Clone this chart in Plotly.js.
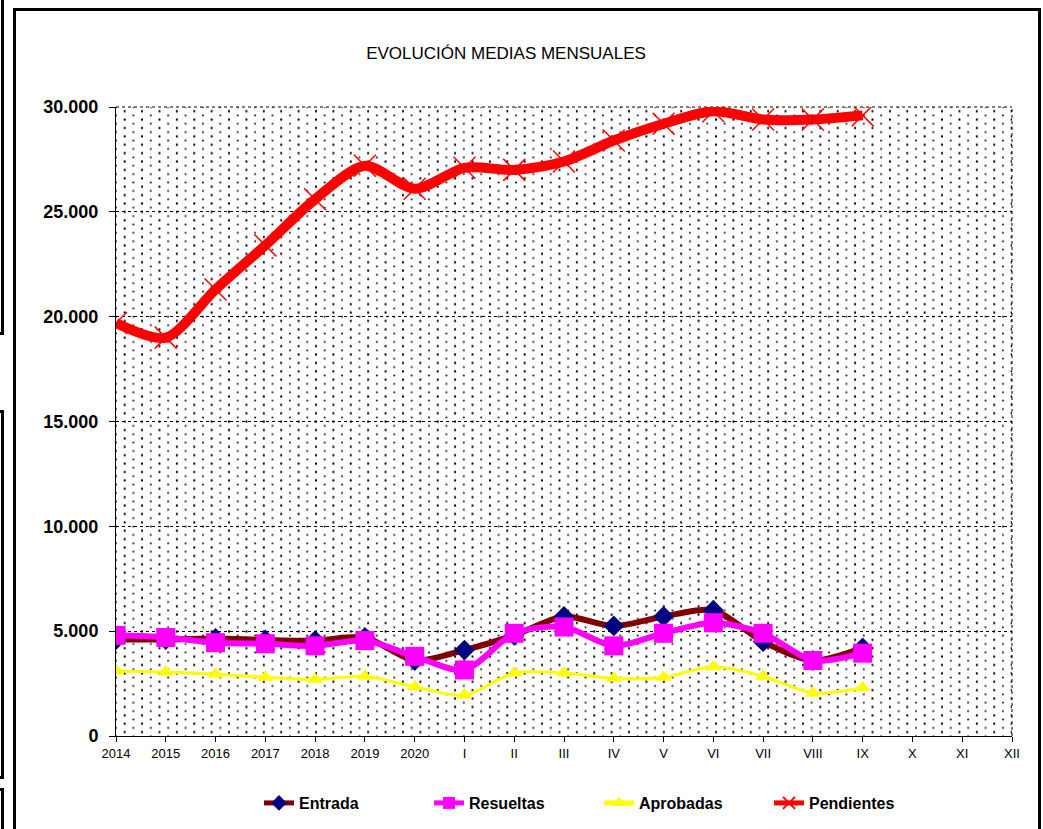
<!DOCTYPE html>
<html>
<head>
<meta charset="utf-8">
<script src="https://cdn.plot.ly/plotly-3.0.1.min.js"></script>
<style>
  html, body { margin: 0; padding: 0; background: #ffffff; width: 1043px; height: 829px; overflow: hidden; }
  #wrap { position: relative; width: 1043px; height: 829px; }
  #dots {
    position: absolute; left: 116px; top: 107px; width: 896px; height: 629px;
    background-color: #ffffff;
    background-image:
      radial-gradient(circle at center, #000 0.9px, rgba(0,0,0,0) 1.3px),
      radial-gradient(circle at center, #222 0.8px, rgba(0,0,0,0) 1.2px);
    background-size: 17.4px 8.4px, 17.4px 8.4px;
    background-position: 0px 0px, 8.7px 4.2px;
  }
  .frame { position: absolute; border: 3px solid #000; box-sizing: border-box; }
  #chart { position: absolute; left: 0; top: 0; width: 1043px; height: 829px; }
</style>
</head>
<body>
<div id="wrap">
  <div class="frame" style="left:-100px; top:-20px; width:104px; height:355px;"></div>
  <div class="frame" style="left:-100px; top:410px; width:104px; height:369px;"></div>
  <div class="frame" style="left:-100px; top:788px; width:104px; height:100px;"></div>
  <div class="frame" style="left:13px; top:8px; width:1028px; height:880px;"></div>
  <div id="dots"></div>
  <div id="chart"></div>
</div>
<script>
// Categories (x axis)
const categories = ["2014","2015","2016","2017","2018","2019","2020",
  "I","II","III","IV","V","VI","VII","VIII","IX","X","XI","XII"];
// Series values (data available through IX)
const entrada    = [4600, 4600, 4650, 4580, 4550, 4700, 3600, 4100, 4800, 5700, 5250, 5700, 6000, 4500, 3600, 4200];
const resueltas  = [4800, 4700, 4450, 4400, 4300, 4550, 3800, 3150, 4900, 5200, 4300, 4900, 5400, 4900, 3600, 3950];
const aprobadas  = [3100, 3050, 2950, 2800, 2700, 2850, 2350, 1950, 3000, 3000, 2750, 2800, 3300, 2850, 2050, 2300];
const pendientes = [19700, 19000, 21300, 23400, 25600, 27200, 26100, 27100, 27000, 27400, 28400, 29200, 29800, 29400, 29400, 29600];
// Y tick values
const yTicks = [0, 5000, 10000, 15000, 20000, 25000, 30000];

const xs = categories.slice(0, entrada.length);

const traces = [
  {
    name: "Entrada", x: xs, y: entrada, type: "scatter", mode: "lines+markers",
    line: { color: "#800000", width: 6, shape: "spline", smoothing: 0.8 },
    marker: { symbol: "diamond", color: "#000080", size: 16 }
  },
  {
    name: "Resueltas", x: xs, y: resueltas, type: "scatter", mode: "lines+markers",
    line: { color: "#FF00FF", width: 6, shape: "spline", smoothing: 0.8 },
    marker: { symbol: "square", color: "#FF00FF", size: 19 }
  },
  {
    name: "Aprobadas", x: xs, y: aprobadas, type: "scatter", mode: "lines+markers",
    line: { color: "#FFFF00", width: 3, shape: "spline", smoothing: 0.8 },
    marker: { symbol: "triangle-up", color: "#FFFF00", size: 14 }
  },
  {
    name: "Pendientes", x: xs, y: pendientes, type: "scatter", mode: "lines+markers",
    line: { color: "#FF0000", width: 10, shape: "spline", smoothing: 0.8 },
    marker: { symbol: "x-thin", color: "#FF0000", size: 22, line: { color: "#FF0000", width: 1.5 } }
  }
];

const layout = {
  width: 1043, height: 829,
  margin: { l: 116, r: 31, t: 107, b: 93 },
  paper_bgcolor: "rgba(0,0,0,0)",
  plot_bgcolor: "rgba(0,0,0,0)",
  separators: ",.",
  showlegend: true,
  title: {
    text: "EVOLUCIÓN MEDIAS MENSUALES",
    font: { family: "'Liberation Sans Narrow', 'Arial Narrow', 'Liberation Sans', Arial, sans-serif", size: 17, color: "#000" },
    xref: "container", x: 506 / 1043, xanchor: "center",
    yref: "container", y: 1 - 53 / 829, yanchor: "middle"
  },
  xaxis: {
    type: "category",
    categoryorder: "array",
    categoryarray: categories,
    range: [0, categories.length - 1],
    showgrid: false,
    zeroline: false,
    showline: true, linecolor: "#000", linewidth: 1,
    ticks: "outside", ticklen: 5, tickcolor: "#000", tickwidth: 1,
    tickfont: { family: "'Liberation Sans', Arial, sans-serif", size: 13, color: "#000" },
    fixedrange: true
  },
  yaxis: {
    range: [0, 30000],
    tickvals: yTicks,
    tickformat: ",d",
    showgrid: true, gridcolor: "#000", gridwidth: 1, griddash: "dot",
    zeroline: false,
    showline: true, linecolor: "#000", linewidth: 1,
    ticks: "outside", ticklen: 6, tickcolor: "#000", tickwidth: 1,
    ticklabelstandoff: 7,
    tickfont: { family: "'Liberation Sans', Arial, sans-serif", size: 18, color: "#000", weight: "bold" },
    fixedrange: true
  },
  shapes: [
    { type: "line", xref: "paper", yref: "paper", x0: 1, x1: 1, y0: 0, y1: 1,
      line: { color: "#000", width: 1, dash: "dot" }, layer: "below" },
    { type: "line", xref: "paper", yref: "paper", x0: 0, x1: 1, y0: 1, y1: 1,
      line: { color: "#000", width: 1, dash: "dot" }, layer: "below" }
  ],
  legend: {
    orientation: "h",
    x: 259 / 1043, xref: "container", xanchor: "left",
    y: 1 - 803 / 829, yref: "container", yanchor: "middle",
    entrywidth: 125, entrywidthmode: "pixels",
    font: { family: "'Liberation Sans', Arial, sans-serif", size: 16, color: "#000", weight: "bold" },
    bgcolor: "rgba(0,0,0,0)",
    itemsizing: "constant"
  }
};

Plotly.newPlot("chart", traces, layout, { displayModeBar: false, staticPlot: true });
</script>
</body>
</html>
